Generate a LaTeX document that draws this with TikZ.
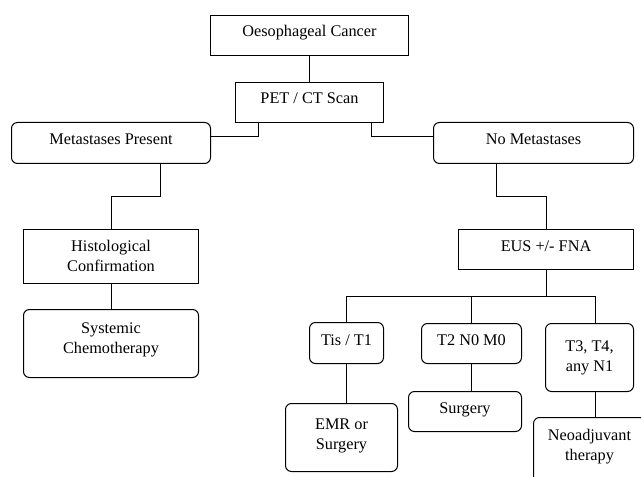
\documentclass[tikz,border=0pt]{standalone}
\usepackage{fontspec}
\setmainfont{Liberation Serif}
\newcommand{\mlines}[1]{\begin{tabular}[b]{@{}c@{}}#1\end{tabular}}
\tikzset{
  basebox/.style={draw=black, line width=0.75pt, inner sep=0pt, outer sep=0pt,
    font=\fontsize{12.2}{15}\selectfont, align=center},
  sqbox/.style={basebox},
  rndbox/.style={basebox, rounded corners=4.5pt},
  sz/.style 2 args={minimum width=#1*0.75pt, minimum height=#2*0.75pt},
  onel/.style={text depth=4pt, text height=#1},
  twol/.style={text depth=0pt, text height=#1},
  conn/.style={draw=black, line width=0.75pt},
}
\begin{document}
\begin{tikzpicture}[x=0.75pt, y=-0.75pt]
\useasboundingbox (-0.5,-0.5) rectangle (640.5,476.5);
\clip (-0.5,-0.5) rectangle (640.5,476.5);
% nodes
\node[sqbox, sz={198}{40}, onel=5.5pt] (oeso) at (309,35) {Oesophageal Cancer};
\node[sqbox, sz={148}{40}, onel=5.5pt] (pet) at (309,102) {PET / CT Scan};
\node[rndbox, sz={199}{41}, onel=6.25pt] (metp) at (110.5,142.5) {Metastases Present};
\node[rndbox, sz={200}{41}, onel=6.25pt] (nomet) at (533,142.5) {No Metastases};
\node[sqbox, sz={175}{54}, twol=22pt] (histo) at (110.5,256) {\mlines{Histological\\Confirmation}};
\node[rndbox, sz={175}{68}, twol=15.5pt] (sys) at (110.5,343) {\mlines{Systemic\\Chemotherapy}};
\node[sqbox, sz={175}{40}, onel=6.5pt] (eus) at (545.5,249) {EUS +/- FNA};
\node[rndbox, sz={74}{41}, onel=7.75pt] (tis) at (346,342.5) {Tis / T1};
\node[rndbox, sz={100}{40}, onel=7pt] (t2) at (471,343) {T2 N0 M0};
\node[rndbox, sz={88}{68}, twol=21pt] (t3) at (589,357) {\mlines{T3, T4,\\any N1}};
\node[rndbox, sz={112}{68}, twol=18pt] (emr) at (341,437) {\mlines{EMR or\\Surgery}};
\node[rndbox, sz={113}{40}, onel=7.5pt] (surg) at (464.5,411) {Surgery};
\node[rndbox, sz={112}{68}, twol=13.5pt] (neo) at (589,451) {\mlines{Neoadjuvant\\therapy}};
% connectors
\draw[conn] (oeso.south) -- (pet.north);
\draw[conn] (pet.south -| 258,0) |- (metp.east |- 0,136);
\draw[conn] (pet.south -| 371,0) |- (nomet.west |- 0,136);
\draw[conn] (metp.south -| 160,0) -- ++(0,33) -| (histo.north);
\draw[conn] (histo.south) -- (sys.north);
\draw[conn] (nomet.south -| 496,0) -- ++(0,33) -| (eus.north);
\draw[conn] (eus.south) -- (eus.south |- 0,296);
\draw[conn] (tis.north) |- (eus.south |- 0,296) -| (t3.north -| 595,0);
\draw[conn] (t2.north) -- (t2.north |- 0,296);
\draw[conn] (tis.south) -- (tis.south |- emr.north);
\draw[conn] (t2.south) -- (t2.south |- surg.north);
\draw[conn] (t3.south -| 595,0) -- (neo.north -| 595,0);
\end{tikzpicture}
\end{document}
